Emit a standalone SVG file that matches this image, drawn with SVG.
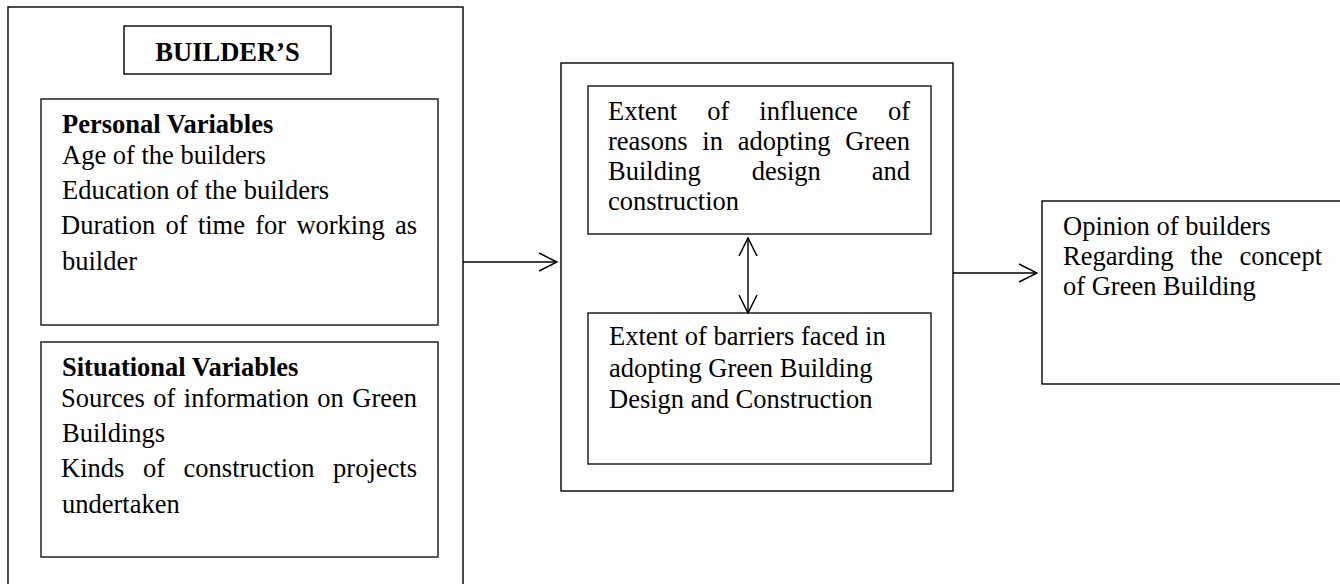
<svg xmlns="http://www.w3.org/2000/svg" width="1340" height="584" viewBox="0 0 1340 584">
<style>
  .box { fill: #fff; stroke: #000; stroke-width: 1.4; }
  .ibox { fill: #fff; stroke: #222; stroke-width: 1.5; }
  .t { font-family: "Liberation Serif", "Times New Roman", serif; font-size: 26.5px; fill: #000; }
  .b { font-weight: bold; }
  .conn { stroke: #000; stroke-width: 1.4; fill: none; }
</style>
<defs>
  <marker id="arr" viewBox="0 0 20 20" refX="19" refY="10" markerWidth="20" markerHeight="20" markerUnits="userSpaceOnUse" orient="auto-start-reverse">
    <path d="M1,1 L19,10 L1,19" fill="none" stroke="#000" stroke-width="1.5"/>
  </marker>
</defs>
<rect width="1340" height="584" fill="#fff"/>

<g id="builders-group">
  <rect class="box" x="8" y="7" width="455" height="600"/>
</g>

<g id="builders-title">
  <rect class="box" x="124" y="26" width="207" height="48"/>
  <text class="t b" x="227.5" y="61" text-anchor="middle">BUILDER’S</text>
</g>

<g id="personal-variables">
  <rect class="ibox" x="41" y="99" width="397" height="226"/>
  <text class="t b" x="62" y="133">Personal Variables</text>
  <text class="t" x="62" y="164">Age of the builders</text>
  <text class="t" x="62" y="199">Education of the builders</text>
  <text class="t" y="234"><tspan x="61">Duration</tspan><tspan x="165.5">of</tspan><tspan x="197.9">time</tspan><tspan x="255.2">for</tspan><tspan x="296.4">working</tspan><tspan x="417" text-anchor="end">as</tspan></text>
  <text class="t" x="62" y="270">builder</text>
</g>

<g id="situational-variables">
  <rect class="ibox" x="41" y="342" width="397" height="215"/>
  <text class="t b" x="62" y="376">Situational Variables</text>
  <text class="t" y="407"><tspan x="61">Sources</tspan><tspan x="153.3">of</tspan><tspan x="183.8">information</tspan><tspan x="317.3">on</tspan><tspan x="417" text-anchor="end">Green</tspan></text>
  <text class="t" x="62" y="442">Buildings</text>
  <text class="t" y="477"><tspan x="61">Kinds</tspan><tspan x="142.9">of</tspan><tspan x="183.6">construction</tspan><tspan x="417" text-anchor="end">projects</tspan></text>
  <text class="t" x="62" y="513">undertaken</text>
</g>

<g id="extent-group">
  <rect class="box" x="561" y="63" width="392" height="428"/>
</g>

<g id="reasons">
  <rect class="ibox" x="588" y="86" width="343" height="148"/>
  <text class="t" y="120"><tspan x="608">Extent</tspan><tspan x="707.2">of</tspan><tspan x="759.3">influence</tspan><tspan x="910" text-anchor="end">of</tspan></text>
  <text class="t" y="150"><tspan x="608">reasons</tspan><tspan x="702.3">in</tspan><tspan x="737.7">adopting</tspan><tspan x="910" text-anchor="end">Green</tspan></text>
  <text class="t" y="180"><tspan x="608">Building</tspan><tspan x="751.7">design</tspan><tspan x="910" text-anchor="end">and</tspan></text>
  <text class="t" x="608" y="210">construction</text>
</g>

<g id="barriers">
  <rect class="ibox" x="588" y="313" width="343" height="151"/>
  <text class="t" x="609" y="345">Extent of barriers faced in</text>
  <text class="t" x="609" y="377">adopting Green Building</text>
  <text class="t" x="609" y="408">Design and Construction</text>
</g>

<g id="opinion">
  <rect class="box" x="1042" y="201" width="320" height="183"/>
  <text class="t" x="1063" y="235">Opinion of builders</text>
  <text class="t" y="265"><tspan x="1063">Regarding</tspan><tspan x="1190.3">the</tspan><tspan x="1322" text-anchor="end">concept</tspan></text>
  <text class="t" x="1063" y="295">of Green Building</text>
</g>

<g id="connectors">
  <line class="conn" x1="463" y1="262" x2="557" y2="262" marker-end="url(#arr)"/>
  <line class="conn" x1="748" y1="238" x2="748" y2="313" marker-start="url(#arr)" marker-end="url(#arr)"/>
  <line class="conn" x1="953" y1="273" x2="1037" y2="273" marker-end="url(#arr)"/>
</g>
</svg>
